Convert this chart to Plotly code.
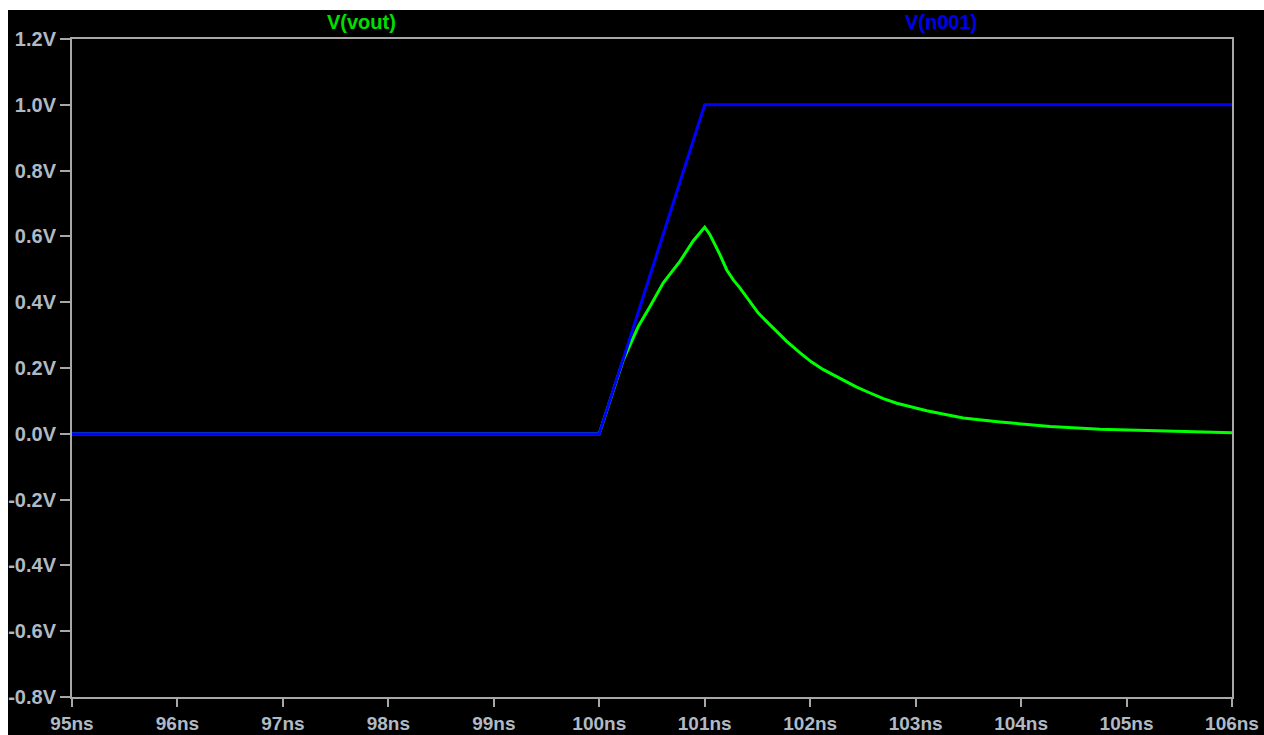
import plotly.graph_objects as go

# Transient waveforms (time in ns, voltage in V)
t_n001 = [95.0, 100.0, 101.0, 106.0]
v_n001 = [0.0, 0.0, 1.0, 1.0]

t_vout = [95.0, 100.0, 100.228, 100.37, 100.481, 100.607, 100.766, 100.892, 101.0,
          101.05, 101.098, 101.145, 101.209, 101.271, 101.335, 101.43, 101.508,
          101.619, 101.778, 101.904, 102.014, 102.125, 102.314, 102.441, 102.568,
          102.694, 102.821, 103.105, 103.295, 103.452, 103.8, 104.275, 104.749,
          105.223, 105.839, 106.0]
v_vout = [0.0, 0.0, 0.225, 0.326, 0.387, 0.459, 0.525, 0.587, 0.628,
          0.605, 0.574, 0.544, 0.498, 0.468, 0.443, 0.402, 0.367,
          0.331, 0.281, 0.246, 0.218, 0.195, 0.164, 0.142, 0.124,
          0.107, 0.093, 0.070, 0.058, 0.048, 0.036, 0.022, 0.014,
          0.010, 0.004, 0.003]

x_ticks = [95, 96, 97, 98, 99, 100, 101, 102, 103, 104, 105, 106]
x_labels = ["95ns", "96ns", "97ns", "98ns", "99ns", "100ns", "101ns",
            "102ns", "103ns", "104ns", "105ns", "106ns"]
y_ticks = [1.2, 1.0, 0.8, 0.6, 0.4, 0.2, 0.0, -0.2, -0.4, -0.6, -0.8]
y_labels = ["1.2V", "1.0V", "0.8V", "0.6V", "0.4V", "0.2V", "0.0V",
            "-0.2V", "-0.4V", "-0.6V", "-0.8V"]

W, H = 1264, 735
L, R, T, B = 72, 32, 39, 38
FONT = "Liberation Sans, Arial, sans-serif"
AXIS_GRAY = "#a8a8a8"
LABEL_GRAY = "#b0bac4"


def px(x):
    """pixel column -> paper x"""
    return (x - L) / (W - L - R)


def py(y):
    """pixel row -> paper y"""
    return 1 - (y - T) / (H - T - B)


fig = go.Figure()
fig.add_trace(go.Scatter(x=t_vout, y=v_vout, mode="lines", name="V(vout)",
                         line=dict(color="#00ff00", width=3)))
fig.add_trace(go.Scatter(x=t_n001, y=v_n001, mode="lines", name="V(n001)",
                         line=dict(color="#0000ff", width=3)))

axis_common = dict(
    showgrid=False, zeroline=False, showline=True, mirror=True, automargin=False,
    linecolor=AXIS_GRAY, linewidth=2, tickwidth=2, tickcolor=AXIS_GRAY,
    ticks="outside",
)

fig.update_layout(
    width=W, height=H,
    margin=dict(l=L, r=R, t=T, b=B),
    paper_bgcolor="black", plot_bgcolor="black",
    showlegend=False,
    xaxis=dict(range=[95, 106], tickvals=x_ticks, ticktext=x_labels, ticklen=8,
               tickfont=dict(family=FONT, size=19, color=LABEL_GRAY, weight="bold"),
               **axis_common),
    yaxis=dict(range=[-0.8, 1.2], tickvals=y_ticks, ticktext=y_labels, ticklen=10,
               tickfont=dict(family=FONT, size=20, color=LABEL_GRAY, weight="bold"),
               **axis_common),
    annotations=[
        dict(text="V(vout)", x=px(361), y=py(22), xref="paper", yref="paper",
             showarrow=False, xanchor="center", yanchor="middle",
             font=dict(family=FONT, size=20, color="#00e000", weight="bold")),
        dict(text="V(n001)", x=px(941), y=py(22), xref="paper", yref="paper",
             showarrow=False, xanchor="center", yanchor="middle",
             font=dict(family=FONT, size=20, color="#0000f0", weight="bold")),
    ],
    shapes=[
        # white page border along the top and left edges
        dict(type="rect", xref="paper", yref="paper", x0=px(0), x1=px(W),
             y0=py(10), y1=py(0), fillcolor="white", line=dict(width=0), layer="above"),
        dict(type="rect", xref="paper", yref="paper", x0=px(0), x1=px(8),
             y0=py(H), y1=py(0), fillcolor="white", line=dict(width=0), layer="above"),
    ],
)

fig.write_html("out.html")
